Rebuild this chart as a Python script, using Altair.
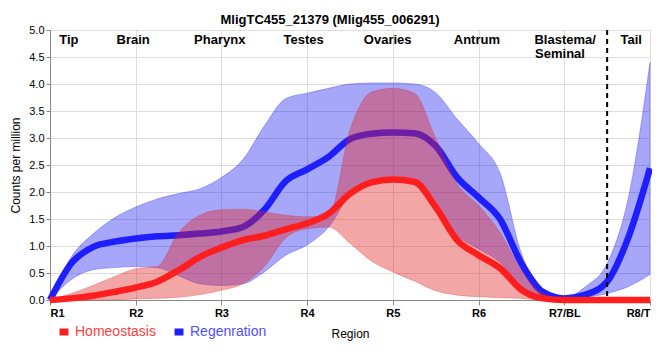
import altair as alt
import pandas as pd

# ---- data ----
positions = [1, 1.25, 1.5, 1.75, 2, 2.25, 2.5, 2.75, 3, 3.25, 3.5, 3.75, 4, 4.25,
             4.5, 4.75, 5, 5.25, 5.5, 5.75, 6, 6.25, 6.5, 6.75, 7, 7.25, 7.5, 7.75, 8]

regen_mean = [0.0, 0.68, 0.98, 1.08, 1.14, 1.18, 1.20, 1.23, 1.27, 1.35, 1.67, 2.20, 2.42, 2.65,
              2.98, 3.08, 3.10, 3.09, 2.85, 2.27, 1.90, 1.50, 0.68, 0.15, 0.03, 0.10, 0.34, 1.17, 2.44]
regen_hi = [0.0, 0.80, 1.22, 1.52, 1.72, 1.87, 1.97, 2.06, 2.27, 2.60, 3.22, 3.73, 3.83, 3.92,
            4.00, 4.02, 4.02, 4.00, 3.84, 3.35, 2.90, 2.35, 0.86, 0.12, 0.05, 0.25, 0.68, 1.91, 4.40]
regen_lo = [0.0, 0.38, 0.56, 0.60, 0.62, 0.60, 0.45, 0.30, 0.27, 0.30, 0.52, 0.83, 1.02, 1.35,
            1.95, 2.18, 2.22, 2.18, 1.75, 1.20, 0.95, 0.70, 0.25, 0.04, 0.00, 0.05, 0.12, 0.25, 0.47]

homeo_mean = [0.0, 0.03, 0.08, 0.15, 0.23, 0.34, 0.55, 0.80, 0.97, 1.11, 1.19, 1.31, 1.42, 1.60,
              1.97, 2.18, 2.23, 2.19, 1.72, 1.11, 0.83, 0.59, 0.19, 0.03, 0.0, 0.0, 0.0, 0.0, 0.0]
homeo_hi = [0.0, 0.12, 0.27, 0.43, 0.58, 0.62, 1.25, 1.57, 1.67, 1.68, 1.63, 1.57, 1.54, 1.56,
            3.15, 3.85, 3.92, 3.83, 3.00, 2.15, 1.75, 1.25, 0.55, 0.12, 0.02, 0.02, 0.02, 0.02, 0.02]
homeo_lo = [0.0, 0.0, 0.0, 0.0, 0.02, 0.03, 0.05, 0.10, 0.18, 0.30, 0.62, 1.15, 1.32, 1.35,
            1.05, 0.72, 0.52, 0.35, 0.17, 0.09, 0.06, 0.04, 0.03, 0.0, 0.0, 0.0, 0.0, 0.0, 0.0]

groups = ["Homeostasis", "Regenration"]
region_ticks = ["R1", "R2", "R3", "R4", "R5", "R6", "R7/BL", "R8/T"]
tick_positions = [1, 2, 3, 4, 5, 6, 7, 8]
y_ticks = [0, 0.5, 1, 1.5, 2, 2.5, 3, 3.5, 4, 4.5, 5]

tissue_names = ["Tip", "Brain", "Pharynx", "Testes", "Ovaries", "Antrum", "Blastema/", "Seminal", "Tail"]
tissue_pos = [1.22, 1.97, 2.98, 3.96, 4.94, 5.98, 7.01, 6.95, 7.78]
tissue_level = [4.82, 4.82, 4.82, 4.82, 4.82, 4.82, 4.82, 4.56, 4.82]

divider_pos = [7.5]

title_text = "MligTC455_21379 (Mlig455_006291)"

# ---- tables ----
rows = []
for g, m, lo, hi in [("Regenration", regen_mean, regen_lo, regen_hi),
                     ("Homeostasis", homeo_mean, homeo_lo, homeo_hi)]:
    for p, a, b, c in zip(positions, m, lo, hi):
        rows.append({"group": g, "pos": p, "mean": a, "lo": b, "hi": c})
df = pd.DataFrame(rows)
tissue_df = pd.DataFrame({"name": tissue_names, "pos": tissue_pos, "level": tissue_level})
divider_df = pd.DataFrame({"pos": divider_pos})

FONT = "Liberation Sans"

x_scale = alt.Scale(domain=[1, 8], nice=False, zero=False)
y_scale = alt.Scale(domain=[0, 5], nice=False)
label_expr = "[" + ",".join(f"'{t}'" for t in region_ticks) + "][round(datum.value) - 1]"

x_axis = alt.Axis(values=tick_positions, labelExpr=label_expr, title="Region", grid=True,
                  labelFontWeight="bold", labelFontSize=11, labelPadding=2, tickSize=5,
                  titleFontSize=12, titleFontWeight="normal", titlePadding=10)
y_axis = alt.Axis(values=y_ticks, format=".1f", title="Counts per million", grid=True,
                  labelFontSize=11, labelPadding=2, tickSize=4,
                  titleFontSize=12, titleFontWeight="normal", titlePadding=6)

X = alt.X("pos:Q", scale=x_scale, axis=x_axis)

stroke_scale = alt.Scale(domain=groups, range=["#ff1e1e", "#1e1eff"])
legend = alt.Legend(
    title=None, orient="none", legendX=6, legendY=294, direction="horizontal",
    symbolType="stroke", symbolStrokeWidth=7, symbolSize=80, symbolOpacity=1,
    labelFontSize=14, labelFont=FONT, labelOffset=3, columnPadding=4,
    labelColor=alt.ExprRef(expr="datum.value == 'Homeostasis' ? '#ff4040' : '#5050ff'"),
)

band_style = {
    "Regenration": dict(fill="#1010f0", fillOpacity=0.37, stroke="#3030f0", strokeOpacity=0.35),
    "Homeostasis": dict(fill="#e02020", fillOpacity=0.40, stroke="#d03030", strokeOpacity=0.3),
}

base = alt.Chart(df)
layers = []
for g in ["Regenration", "Homeostasis"]:
    sub = base.transform_filter(alt.datum.group == g)
    band = sub.mark_area(interpolate="monotone", strokeWidth=1, **band_style[g]).encode(
        x=X, y=alt.Y("lo:Q", scale=y_scale, axis=y_axis), y2="hi:Q")
    line = sub.mark_line(interpolate="monotone", strokeWidth=6.5).encode(
        x=X, y=alt.Y("mean:Q", scale=y_scale, axis=y_axis),
        stroke=alt.Stroke("group:N", scale=stroke_scale, legend=legend))
    layers += [band, line]

divider = alt.Chart(divider_df).mark_rule(color="black", strokeWidth=2, strokeDash=[5, 4]).encode(x=X)

labels = alt.Chart(tissue_df).mark_text(fontWeight="bold", fontSize=13, font=FONT,
                                         baseline="middle", color="black").encode(
    x=X, y=alt.Y("level:Q", scale=y_scale, axis=y_axis), text="name:N")

chart = alt.layer(*layers, divider, labels).properties(
    width=600, height=270,
    autosize=alt.AutoSizeParams(type="none"),
    padding={"left": 42, "top": 22, "right": 2, "bottom": 48},
    title=alt.TitleParams(title_text, fontSize=13, fontWeight="bold", font=FONT,
                          anchor="middle", offset=-3, dx=-20, color="black"),
).configure_view(stroke="black", strokeWidth=1).configure_axis(
    domainColor="black", domainWidth=3, tickColor="black", gridColor="#c8c8c8",
    labelColor="black", titleColor="black", labelFont=FONT, titleFont=FONT,
).configure(font=FONT)

chart.save("out.html", embed_options={"renderer": "svg", "actions": False})
